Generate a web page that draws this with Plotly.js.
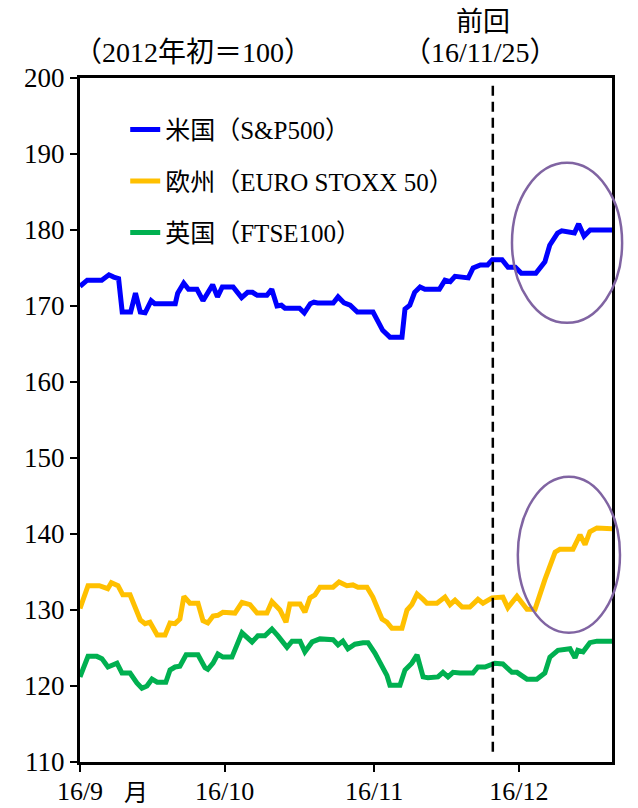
<!DOCTYPE html>
<html>
<head>
<meta charset="utf-8">
<script src="https://cdn.plot.ly/plotly-3.0.1.min.js"></script>
<style>html,body{margin:0;padding:0;background:#fff;}#chart{width:638px;height:808px;}</style>
</head>
<body>
<div id="chart"></div>
<script>
// ---- data ----
const usDates = ["2016-09-01","2016-09-02 12:00","2016-09-05 12:00","2016-09-07","2016-09-08","2016-09-09","2016-09-09 18:00","2016-09-11 12:00","2016-09-12 12:00","2016-09-13 12:00","2016-09-14 12:00","2016-09-15 18:00","2016-09-16 12:00","2016-09-20 18:00","2016-09-21 06:00","2016-09-22 12:00","2016-09-23 12:00","2016-09-25 06:00","2016-09-26 12:00","2016-09-28 12:00","2016-09-29 12:00","2016-09-30 12:00","2016-10-02 18:00","2016-10-04 12:00","2016-10-05 18:00","2016-10-06 18:00","2016-10-07 18:00","2016-10-09 18:00","2016-10-10 18:00","2016-10-11 20:00","2016-10-12 18:00","2016-10-13 12:00","2016-10-16 12:00","2016-10-17 12:00","2016-10-18 18:00","2016-10-19 12:00","2016-10-20 06:00","2016-10-23 12:00","2016-10-24 12:00","2016-10-25 18:00","2016-10-27","2016-10-28 12:00","2016-10-31 18:00","2016-11-02 06:00","2016-11-02 18:00","2016-11-04 06:00","2016-11-06 18:00","2016-11-07 09:00","2016-11-08 09:00","2016-11-09 09:00","2016-11-10 12:00","2016-11-11 12:00","2016-11-14 12:00","2016-11-15 16:00","2016-11-16 18:00","2016-11-17 18:00","2016-11-20 12:00","2016-11-21 12:00","2016-11-23","2016-11-24 12:00","2016-11-25 12:00","2016-11-27 12:00","2016-11-28 18:00","2016-11-30 06:00","2016-12-01 12:00","2016-12-04 12:00","2016-12-06 09:00","2016-12-07 09:00","2016-12-09","2016-12-09 21:00","2016-12-12 12:00","2016-12-13 09:00","2016-12-14 12:00","2016-12-15 18:00","2016-12-20 07:00"];
const usValues = [172.6,173.4,173.4,174.1,173.8,173.6,169.2,169.2,171.7,169.2,169.1,170.7,170.3,170.3,171.7,173.0,172.2,172.2,170.7,172.8,171.2,172.5,172.5,171.1,171.8,171.8,171.4,171.4,172.2,170.0,170.1,169.7,169.7,169.1,170.3,170.5,170.4,170.4,171.2,170.4,170.1,169.2,169.2,167.5,166.8,165.9,165.9,169.6,170.1,171.8,172.5,172.2,172.2,173.4,173.2,173.9,173.7,175.0,175.4,175.4,176.1,176.1,175.1,175.1,174.3,174.3,175.8,178.0,179.6,179.9,179.6,180.8,179.2,180.0,180.0];

const euDates = ["2016-09-01","2016-09-02 16:00","2016-09-05","2016-09-06 18:00","2016-09-07 12:00","2016-09-08 21:00","2016-09-09 21:00","2016-09-11 09:00","2016-09-13 12:00","2016-09-14 12:00","2016-09-15 12:00","2016-09-17","2016-09-18 15:00","2016-09-19 16:00","2016-09-20 17:00","2016-09-21 17:00","2016-09-22 13:00","2016-09-23 19:00","2016-09-25 11:00","2016-09-26 12:00","2016-09-27 12:00","2016-09-28 14:00","2016-09-29 14:00","2016-09-30 15:00","2016-10-03 03:00","2016-10-04 14:00","2016-10-06 06:00","2016-10-07 17:00","2016-10-09 18:00","2016-10-10 19:00","2016-10-12 11:00","2016-10-13 17:00","2016-10-14 12:00","2016-10-16 15:00","2016-10-17 15:00","2016-10-18 16:00","2016-10-19 17:00","2016-10-20 18:00","2016-10-23 11:00","2016-10-24 17:00","2016-10-26 08:00","2016-10-27 14:00","2016-10-28 15:00","2016-10-30 12:00","2016-10-31 17:00","2016-11-02 15:00","2016-11-03 15:00","2016-11-04 16:00","2016-11-06 18:00","2016-11-07 19:00","2016-11-08 19:00","2016-11-09 21:00","2016-11-11 03:00","2016-11-11 22:00","2016-11-14","2016-11-15 16:00","2016-11-16 17:00","2016-11-17 18:00","2016-11-19 05:00","2016-11-20 20:00","2016-11-22 12:00","2016-11-23 13:00","2016-11-25 10:00","2016-11-27 16:00","2016-11-28 17:00","2016-11-30 14:00","2016-12-02 16:00","2016-12-04 08:00","2016-12-06 09:00","2016-12-08 12:00","2016-12-09 12:00","2016-12-12 05:00","2016-12-13 16:00","2016-12-14 17:00","2016-12-15 17:00","2016-12-17 04:00","2016-12-20 07:00"];
const euValues = [130.2,133.2,133.2,132.8,133.6,133.2,132.0,132.0,128.7,128.2,128.4,126.7,126.7,128.3,128.2,128.8,131.8,130.9,130.9,128.6,128.3,129.2,129.3,129.7,129.6,131.0,130.7,129.6,129.6,131.1,130.0,128.4,130.8,130.8,129.7,131.6,132.0,133.0,133.0,133.7,133.2,133.3,133.0,133.0,131.7,128.8,128.4,127.6,127.6,130.0,130.7,132.1,131.4,130.9,130.9,131.7,130.7,131.3,130.4,130.4,131.4,130.9,131.6,131.7,130.3,131.8,130.1,130.1,134.0,137.6,138.0,138.0,139.9,138.6,140.3,140.8,140.7];

const ukDates = ["2016-09-01","2016-09-02 16:00","2016-09-04 12:00","2016-09-05 13:00","2016-09-06 19:00","2016-09-08 16:00","2016-09-09 17:00","2016-09-11 09:00","2016-09-12 19:00","2016-09-13 20:00","2016-09-14 21:00","2016-09-15 22:00","2016-09-17","2016-09-18 19:00","2016-09-19 16:00","2016-09-20 17:00","2016-09-21 17:00","2016-09-23","2016-09-25 11:00","2016-09-26 22:00","2016-09-27 12:00","2016-09-28 14:00","2016-09-29 14:00","2016-09-30 15:00","2016-10-02 12:00","2016-10-04 14:00","2016-10-06 16:00","2016-10-07 21:00","2016-10-09 08:00","2016-10-10 19:00","2016-10-12 01:00","2016-10-13 22:00","2016-10-14 23:00","2016-10-16 15:00","2016-10-17 15:00","2016-10-19 03:00","2016-10-20 18:00","2016-10-23 11:00","2016-10-24 12:00","2016-10-25 12:00","2016-10-26 13:00","2016-10-28","2016-10-29 16:00","2016-10-30 17:00","2016-11-01 04:00","2016-11-02 15:00","2016-11-03 15:00","2016-11-04 06:00","2016-11-06 08:00","2016-11-07 09:00","2016-11-08 19:00","2016-11-09 21:00","2016-11-11 03:00","2016-11-12 03:00","2016-11-14 05:00","2016-11-15 06:00","2016-11-16 07:00","2016-11-17 08:00","2016-11-18 18:00","2016-11-21 11:00","2016-11-22 12:00","2016-11-23 23:00","2016-11-26","2016-11-27 16:00","2016-11-29 13:00","2016-11-30 14:00","2016-12-02 16:00","2016-12-04 17:00","2016-12-06 09:00","2016-12-07 10:00","2016-12-09 02:00","2016-12-11 14:00","2016-12-12 15:00","2016-12-13 05:00","2016-12-14 07:00","2016-12-15 17:00","2016-12-17 04:00","2016-12-20 07:00"];
const ukValues = [121.2,123.9,123.9,123.6,122.5,123.0,121.7,121.7,120.4,119.7,120.0,120.9,120.5,120.5,122.1,122.5,122.6,124.1,124.1,122.4,122.2,123.0,124.2,123.8,123.8,127.0,125.8,126.6,126.6,127.5,126.6,125.1,125.9,125.9,124.5,125.8,126.2,126.1,125.4,125.9,124.9,125.5,125.7,125.7,124.3,122.5,121.4,120.1,120.1,122.1,123.0,124.1,121.2,121.1,121.2,121.8,121.2,121.8,121.7,121.7,122.5,122.5,123.0,122.9,121.8,121.8,120.9,120.9,121.7,123.8,124.7,124.9,123.7,124.7,124.5,125.7,125.9,125.9];

const seriesNames = ["米国（S&P500）", "欧州（EURO STOXX 50）", "英国（FTSE100）"];
const xTickVals = ["2016-09-01", "2016-10-01", "2016-11-01", "2016-12-01"];
const xTickText = ["16/9", "16/10", "16/11", "16/12"];
const xRange = ["2016-09-01", "2016-12-20 07:00"];
const yRange = [110, 200];
const previousDate = "2016-11-25 14:00";

// ---- chart ----
const FONT = "'Liberation Serif', 'Noto Sans CJK JP', serif";
const colors = ["#0000FF", "#FFC000", "#00B050"];
const xs = [usDates, euDates, ukDates];
const ys = [usValues, euValues, ukValues];

const traces = seriesNames.map((n, i) => ({
  type: "scatter", mode: "lines", name: n, x: xs[i], y: ys[i],
  legendgroup: "g" + i,
  line: {color: colors[i], width: 5, shape: "linear"},
  hoverinfo: "skip"
}));

const layout = {
  width: 638, height: 808,
  margin: {l: 80, r: 26, t: 78, b: 46, pad: 0},
  paper_bgcolor: "#fff", plot_bgcolor: "#fff",
  font: {family: FONT, size: 26, color: "#000"},
  showlegend: true,
  legend: {
    x: 0.085, y: 0.958, xanchor: "left", yanchor: "top",
    font: {family: FONT, size: 25, color: "#000"},
    bgcolor: "rgba(0,0,0,0)", borderwidth: 0,
    tracegroupgap: 16, itemwidth: 30
  },
  xaxis: {
    type: "date", range: xRange, tickmode: "array",
    tickvals: xTickVals, ticktext: xTickText,
    showgrid: false, zeroline: false,
    showline: true, linecolor: "#000", linewidth: 3, mirror: true,
    ticks: "outside", ticklen: 7, tickwidth: 2, tickcolor: "#000",
    ticklabelstandoff: -3,
    tickfont: {family: FONT, size: 26, color: "#000"}
  },
  yaxis: {
    range: yRange, dtick: 10, tick0: 110,
    showgrid: false, zeroline: false,
    showline: true, linecolor: "#000", linewidth: 3, mirror: true,
    ticks: "outside", ticklen: 7, tickwidth: 2, tickcolor: "#000",
    tickfont: {family: FONT, size: 27, color: "#000"}
  },
  shapes: [
    {type: "line", xref: "x", yref: "paper", x0: previousDate, x1: previousDate, y0: 0.015, y1: 0.993,
     line: {color: "#000", width: 2.5, dash: "10px,6px"}},
    {type: "circle", xref: "paper", yref: "paper", x0: 0.812, x1: 1.019, y0: 0.642, y1: 0.876,
     line: {color: "#8064A2", width: 2.5}, layer: "above"},
    {type: "circle", xref: "paper", yref: "paper", x0: 0.823, x1: 1.015, y0: 0.189, y1: 0.417,
     line: {color: "#8064A2", width: 2.5}, layer: "above"}
  ],
  annotations: [
    {text: "（2012年初＝100）", xref: "paper", yref: "paper", x: 0.212, y: 1.038, showarrow: false,
     xanchor: "center", yanchor: "middle", font: {family: FONT, size: 28, color: "#000"}},
    {text: "前回", xref: "paper", yref: "paper", x: 0.758, y: 1.082, showarrow: false,
     xanchor: "center", yanchor: "middle", font: {family: FONT, size: 27, color: "#000"}},
    {text: "（16/11/25）", xref: "paper", yref: "paper", x: 0.752, y: 1.038, showarrow: false,
     xanchor: "center", yanchor: "middle", font: {family: FONT, size: 28, color: "#000"}},
    {text: "月", xref: "paper", yref: "paper", x: 0.105, y: -0.046, showarrow: false,
     xanchor: "center", yanchor: "middle", font: {family: FONT, size: 24, color: "#000"}}
  ]
};

Plotly.newPlot("chart", traces, layout, {staticPlot: true, displayModeBar: false});
</script>
</body>
</html>
